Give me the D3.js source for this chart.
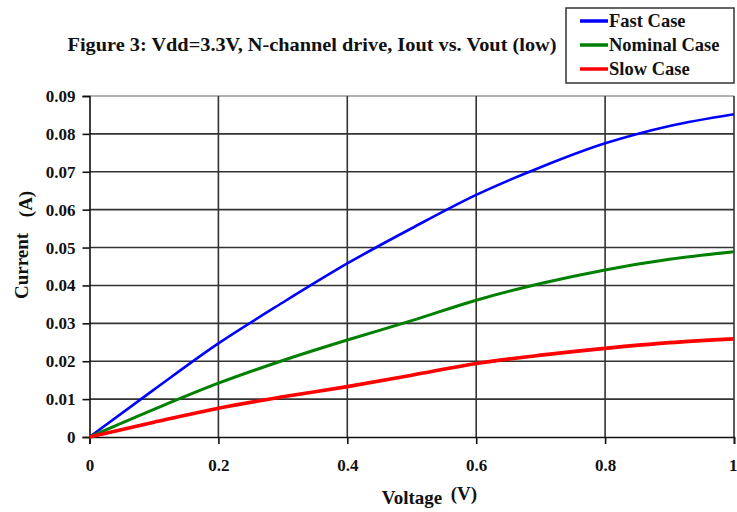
<!DOCTYPE html>
<html>
<head>
<meta charset="utf-8">
<style>
body{
    margin: 0;
    background: #fff;
}
text{
    font-family: "Liberation Serif", "Times New Roman", serif;
    font-weight: bold;
    fill: #111;
}
</style>
</head>
<body>
<svg id="chart"></svg>

<script src="https://cdn.jsdelivr.net/npm/d3@7"></script>
<script>
// values
var voltage = [0, 0.1, 0.2, 0.3, 0.4, 0.5, 0.6, 0.7, 0.8, 0.9, 1.0];
var fastCase = [0, 0.0125, 0.0247, 0.0355, 0.0458, 0.0551, 0.0639, 0.0712, 0.0775, 0.0821, 0.0852];
var nominalCase = [0, 0.0073, 0.0142, 0.0202, 0.0256, 0.0307, 0.0361, 0.0405, 0.0441, 0.0469, 0.0489];
var slowCase = [0, 0.0039, 0.0076, 0.0106, 0.0133, 0.0163, 0.0194, 0.0216, 0.0234, 0.0249, 0.0259];
var seriesNames = ['Fast Case', 'Nominal Case', 'Slow Case'];
var seriesColors = ['#0000ff', '#008000', '#ff0000'];
var xTicks = [0, 0.2, 0.4, 0.6, 0.8, 1];
var yTicks = [0, 0.01, 0.02, 0.03, 0.04, 0.05, 0.06, 0.07, 0.08, 0.09];

var width = 737;
var height = 512;

var x = d3.scaleLinear().domain([0, 1]).range([89.5, 734]);
var y = d3.scaleLinear().domain([0, 0.09]).range([437, 96]);

var svg = d3.select('#chart')
    .attr('width', width)
    .attr('height', height);

// horizontal grid
svg.append('g').selectAll('line').data(yTicks.slice(1))
    .enter().append('line')
    .attr('x1', x(0)).attr('x2', x(1))
    .attr('y1', function (d) { return y(d); })
    .attr('y2', function (d) { return y(d); })
    .attr('stroke', function (d) { return d === 0.09 ? '#999' : '#333'; })
    .attr('stroke-width', 1.6);

// vertical grid
svg.append('g').selectAll('line').data(xTicks.slice(1))
    .enter().append('line')
    .attr('y1', y(0)).attr('y2', y(0.09))
    .attr('x1', function (d) { return x(d); })
    .attr('x2', function (d) { return x(d); })
    .attr('stroke', '#333')
    .attr('stroke-width', 1.6);

// axes
var yAxis = svg.append('g')
    .attr('transform', 'translate(' + x(0) + ',0)')
    .call(d3.axisLeft(y).tickValues(yTicks).tickSizeOuter(0).tickSize(7)
        .tickFormat(function (d) { return d === 0 ? '0' : d3.format('.2f')(d); }));
var xAxis = svg.append('g')
    .attr('transform', 'translate(0,' + y(0) + ')')
    .call(d3.axisBottom(x).tickValues(xTicks).tickSizeOuter(0).tickSize(7)
        .tickFormat(function (d) { return d3.format('~g')(d); }));

[yAxis, xAxis].forEach(function (ax) {
    ax.select('.domain').attr('stroke', '#111').attr('stroke-width', 1.6);
    ax.selectAll('.tick line').attr('stroke', '#111').attr('stroke-width', 1.6);
    ax.selectAll('text')
        .attr('font-family', '"Liberation Serif", serif')
        .attr('font-weight', 'bold')
        .attr('font-size', 17)
        .attr('fill', '#111');
});
yAxis.selectAll('text').attr('x', -14);
xAxis.selectAll('text').attr('y', 22);
// last x label sits on the right edge, keep it inside the page
xAxis.selectAll('.tick text')
    .filter(function (d) { return d === 1; })
    .attr('text-anchor', 'end')
    .attr('x', width - x(1));

// curves
var line = d3.line()
    .x(function (d) { return x(d[0]); })
    .y(function (d) { return y(d[1]); })
    .curve(d3.curveMonotoneX);

var series = [fastCase, nominalCase, slowCase];
var widths = [2.6, 3, 3.6];
series.forEach(function (vals, i) {
    svg.append('path')
        .datum(voltage.map(function (v, j) { return [v, vals[j]]; }))
        .attr('d', line)
        .attr('fill', 'none')
        .attr('stroke', seriesColors[i])
        .attr('stroke-width', widths[i]);
});

// title
svg.append('text')
    .attr('x', 312).attr('y', 51)
    .attr('text-anchor', 'middle')
    .attr('font-size', 19)
    .attr('textLength', 489)
    .attr('lengthAdjust', 'spacingAndGlyphs')
    .text('Figure 3: Vdd=3.3V, N-channel drive, Iout vs. Vout (low)');

// axis titles
svg.append('text')
    .attr('transform', 'translate(28,266) rotate(-90)')
    .attr('text-anchor', 'middle')
    .attr('font-size', 19)
    .text('Current');
svg.append('text')
    .attr('transform', 'translate(32,204) rotate(-90)')
    .attr('text-anchor', 'middle')
    .attr('font-size', 19)
    .text('(A)');
svg.append('text')
    .attr('x', 412).attr('y', 504)
    .attr('text-anchor', 'middle')
    .attr('font-size', 19)
    .text('Voltage');
svg.append('text')
    .attr('x', 464).attr('y', 500)
    .attr('text-anchor', 'middle')
    .attr('font-size', 19)
    .text('(V)');

// legend
var legend = svg.append('g');
legend.append('rect')
    .attr('x', 566).attr('y', 8)
    .attr('width', 168).attr('height', 75)
    .attr('fill', '#fff')
    .attr('stroke', '#333')
    .attr('stroke-width', 1.5);
seriesNames.forEach(function (name, i) {
    var ly = 21 + i * 24;
    legend.append('line')
        .attr('x1', 580).attr('x2', 608)
        .attr('y1', ly).attr('y2', ly)
        .attr('stroke', seriesColors[i])
        .attr('stroke-width', 3.5);
    legend.append('text')
        .attr('x', 609).attr('y', ly + 6)
        .attr('font-size', 18.5)
        .text(name);
});
</script>
</body>
</html>
